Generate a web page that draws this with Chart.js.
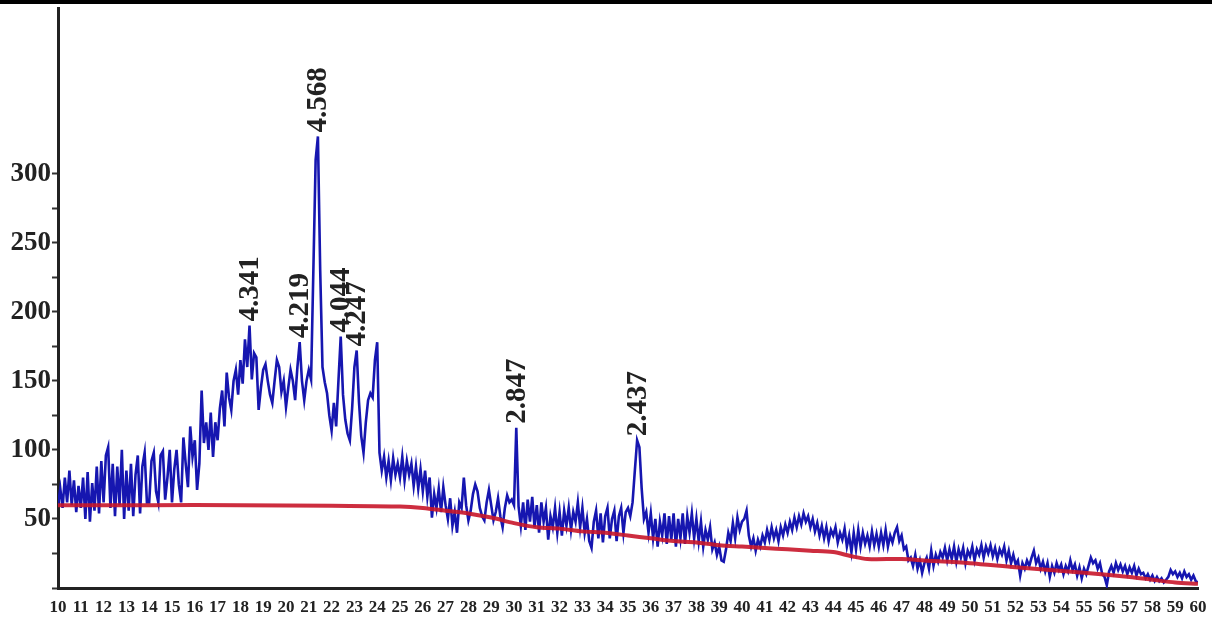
<!DOCTYPE html>
<html>
<head>
<meta charset="utf-8">
<script src="https://cdn.jsdelivr.net/npm/chart.js@4.4.1/dist/chart.umd.min.js"></script>
<style>
  html, body { margin: 0; padding: 0; background: #fff; }
  #wrap { width: 1212px; height: 621px; }
</style>
</head>
<body>
<div id="wrap"><canvas id="xrd" width="1212" height="621"></canvas></div>
<script>
// 2-theta grid: 10.0 .. 60.0, step 0.1
const thetaStart = 10;
const thetaStep = 0.1;

// measured intensity (counts), one row per degree
const intensity = [
  60, 72, 58, 80, 62, 85, 60, 78, 55, 74,          // 10
  58, 80, 50, 84, 48, 76, 56, 88, 54, 92,          // 11
  62, 96, 102, 58, 90, 52, 88, 60, 100, 50,        // 12
  85, 56, 90, 52, 82, 96, 54, 88, 98, 62,          // 13
  62, 92, 98, 70, 62, 96, 99, 64, 80, 100,         // 14
  62, 86, 100, 75, 62, 109, 90, 73, 117, 95,       // 15
  107, 71, 90, 143, 105, 120, 100, 127, 95, 120,   // 16
  107, 130, 143, 117, 156, 138, 129, 150, 158, 140,// 17
  165, 148, 180, 160, 190, 151, 170, 167, 129, 145,// 18
  158, 162, 150, 140, 134, 150, 165, 160, 142, 150,// 19
  131, 145, 158, 150, 136, 160, 178, 150, 136, 150,// 20
  158, 151, 230, 310, 327, 230, 160, 149, 141, 125,// 21
  114, 134, 117, 150, 182, 140, 122, 112, 107, 130,// 22
  160, 172, 135, 110, 98, 120, 136, 141, 138, 165, // 23
  178, 98, 85, 95, 80, 92, 78, 94, 82, 90,         // 24
  80, 95, 78, 92, 82, 90, 74, 88, 72, 86,          // 25
  70, 85, 66, 80, 51, 68, 58, 72, 55, 73,          // 26
  60, 50, 65, 45, 55, 40, 62, 58, 80, 60,          // 27
  49, 56, 68, 75, 70, 58, 52, 49, 62, 71,          // 28
  60, 49, 55, 65, 52, 44, 58, 67, 62, 64,          // 29
  60, 116, 59, 45, 62, 42, 64, 48, 66, 44,         // 30
  60, 40, 62, 48, 58, 35, 52, 44, 58, 40,          // 31
  55, 38, 56, 45, 58, 42, 55, 48, 62, 44,          // 32
  58, 40, 50, 34, 29, 48, 56, 36, 54, 33,          // 33
  52, 58, 36, 50, 56, 34, 52, 58, 40, 55,          // 34
  58, 52, 62, 85, 107, 102, 72, 50, 55, 40,        // 35
  54, 36, 50, 30, 48, 38, 54, 32, 52, 35,          // 36
  54, 30, 50, 36, 54, 32, 52, 40, 54, 36,          // 37
  50, 34, 48, 30, 42, 35, 44, 28, 33, 24,          // 38
  30, 20, 19, 28, 40, 34, 47, 36, 51, 42,          // 39
  48, 50, 56, 38, 30, 36, 27, 35, 30, 38,          // 40
  33, 42, 35, 44, 36, 42, 34, 44, 38, 46,          // 41
  40, 48, 42, 51, 44, 52, 46, 54, 48, 52,          // 42
  44, 50, 41, 47, 38, 45, 36, 44, 34, 42,          // 43
  38, 44, 33, 40, 35, 43, 30, 38, 26, 40,          // 44
  28, 42, 30, 40, 32, 38, 30, 41, 31, 39,          // 45
  30, 40, 31, 42, 30, 38, 33, 40, 44, 34,          // 46
  38, 28, 30, 20, 22, 16, 24, 14, 20, 11,          // 47
  18, 22, 14, 27, 16, 24, 19, 26, 22, 29,          // 48
  20, 28, 21, 30, 19, 28, 22, 29, 18, 27,          // 49
  23, 30, 20, 28, 24, 31, 22, 30, 25, 31,          // 50
  23, 29, 21, 28, 24, 30, 20, 27, 18, 24,          // 51
  17, 20, 9, 18, 14, 20, 16, 22, 27, 18,           // 52
  22, 14, 19, 12, 18, 8, 16, 11, 18, 13,           // 53
  17, 10, 16, 12, 20, 13, 17, 9, 15, 7,            // 54
  14, 10, 16, 22, 18, 20, 14, 18, 10, 8,           // 55
  2, 12, 16, 11, 18, 13, 17, 12, 16, 10,           // 56
  15, 11, 16, 9, 14, 10, 11, 7, 10, 6,             // 57
  9, 5, 8, 5, 7, 4, 6, 8, 13, 10,                  // 58
  12, 8, 11, 7, 12, 8, 10, 6, 9, 5,                // 59
  4                                                // 60
];

// fitted background (red curve)
const baseTheta = [10, 14, 18, 22, 25, 26, 27, 28, 29, 30, 31, 32, 33, 34, 35, 36, 37, 38, 39, 40,
                   41, 42, 43, 44, 44.8, 45.5, 47, 48, 50, 52, 55, 57, 58, 59, 60];
const baseValue = [60, 60, 60, 59.5, 59, 58, 56, 54, 51, 47, 44, 43, 41, 40, 38, 36, 34, 33, 31, 30,
                   29, 28, 27, 26, 23, 21, 21, 20, 18, 15, 11, 8, 6, 4, 3];

// annotated reflections (d-spacing labels)
const peakTheta = [18.4, 20.6, 21.4, 22.4, 23.1, 30.1, 35.4];
const peakLabel = ['4.341', '4.219', '4.568', '4.044', '4.247', '2.847', '2.437'];

// y tick positions and labelled values
const yTickStep = 12.5;
const yTickTop = 312.5;
const yLabelled = [50, 100, 150, 200, 250, 300];

const serif = '"Liberation Serif", "Times New Roman", serif';

const patternPoints = intensity.map((v, i) => ({
  x: Math.round((thetaStart + i * thetaStep) * 10) / 10,
  y: v
}));
const basePoints = baseTheta.map((t, i) => ({ x: t, y: baseValue[i] }));

const peakNotes = {
  id: 'peakNotes',
  afterDatasetsDraw(chart) {
    const ctx = chart.ctx;
    const xs = chart.scales.x, ys = chart.scales.y;
    ctx.save();
    ctx.fillStyle = '#222';
    ctx.font = 'bold 29px ' + serif;
    ctx.textAlign = 'left';
    ctx.textBaseline = 'middle';
    peakTheta.forEach((t, i) => {
      const idx = Math.round((t - thetaStart) / thetaStep);
      const px = xs.getPixelForValue(t) + 1;
      const py = ys.getPixelForValue(intensity[idx]) - 4;
      ctx.save();
      ctx.translate(px, py);
      ctx.rotate(-Math.PI / 2);
      ctx.fillText(peakLabel[i], 0, 0);
      ctx.restore();
    });
    ctx.restore();
  }
};

const topRule = {
  id: 'topRule',
  beforeDraw(chart) {
    const ctx = chart.ctx;
    ctx.save();
    ctx.fillStyle = '#000';
    ctx.fillRect(0, 0, chart.width, 4);
    ctx.restore();
  }
};

new Chart(document.getElementById('xrd'), {
  type: 'line',
  data: {
    datasets: [
      {
        label: 'pattern',
        data: patternPoints,
        borderColor: '#1616b0',
        borderWidth: 2.6,
        pointRadius: 0,
        tension: 0,
        order: 2
      },
      {
        label: 'background',
        data: basePoints,
        borderColor: 'rgba(200, 22, 42, 0.9)',
        borderWidth: 4,
        pointRadius: 0,
        tension: 0.3,
        order: 1
      }
    ]
  },
  options: {
    responsive: false,
    animation: false,
    layout: { padding: { top: 0, right: 14, left: 0, bottom: 0 } },
    plugins: { legend: { display: false }, tooltip: { enabled: false } },
    scales: {
      x: {
        type: 'linear',
        min: 10,
        max: 60,
        grid: { display: false },
        border: { display: true, color: '#222', width: 3 },
        ticks: {
          stepSize: 1,
          autoSkip: false,
          maxRotation: 0,
          padding: 1,
          color: '#222',
          font: { family: serif, size: 17, weight: 'bold' }
        },
        afterFit(scale) { scale.height = 33; }
      },
      y: {
        min: 0,
        max: 420,
        afterBuildTicks(scale) {
          const t = [];
          for (let v = 0; v <= yTickTop; v += yTickStep) t.push({ value: v });
          scale.ticks = t;
        },
        grid: {
          drawOnChartArea: false,
          drawTicks: true,
          tickLength: 6,
          tickWidth: 2,
          color: '#333'
        },
        border: { display: true, color: '#222', width: 3 },
        ticks: {
          padding: 1,
          color: '#222',
          font: { family: serif, size: 27, weight: 'bold' },
          callback: v => (yLabelled.includes(v) ? String(v) : '')
        },
        afterFit(scale) {
          scale.width = 58;
          scale.paddingTop = 8;
          scale.paddingBottom = 0;
        }
      }
    }
  },
  plugins: [topRule, peakNotes]
});
</script>
</body>
</html>
